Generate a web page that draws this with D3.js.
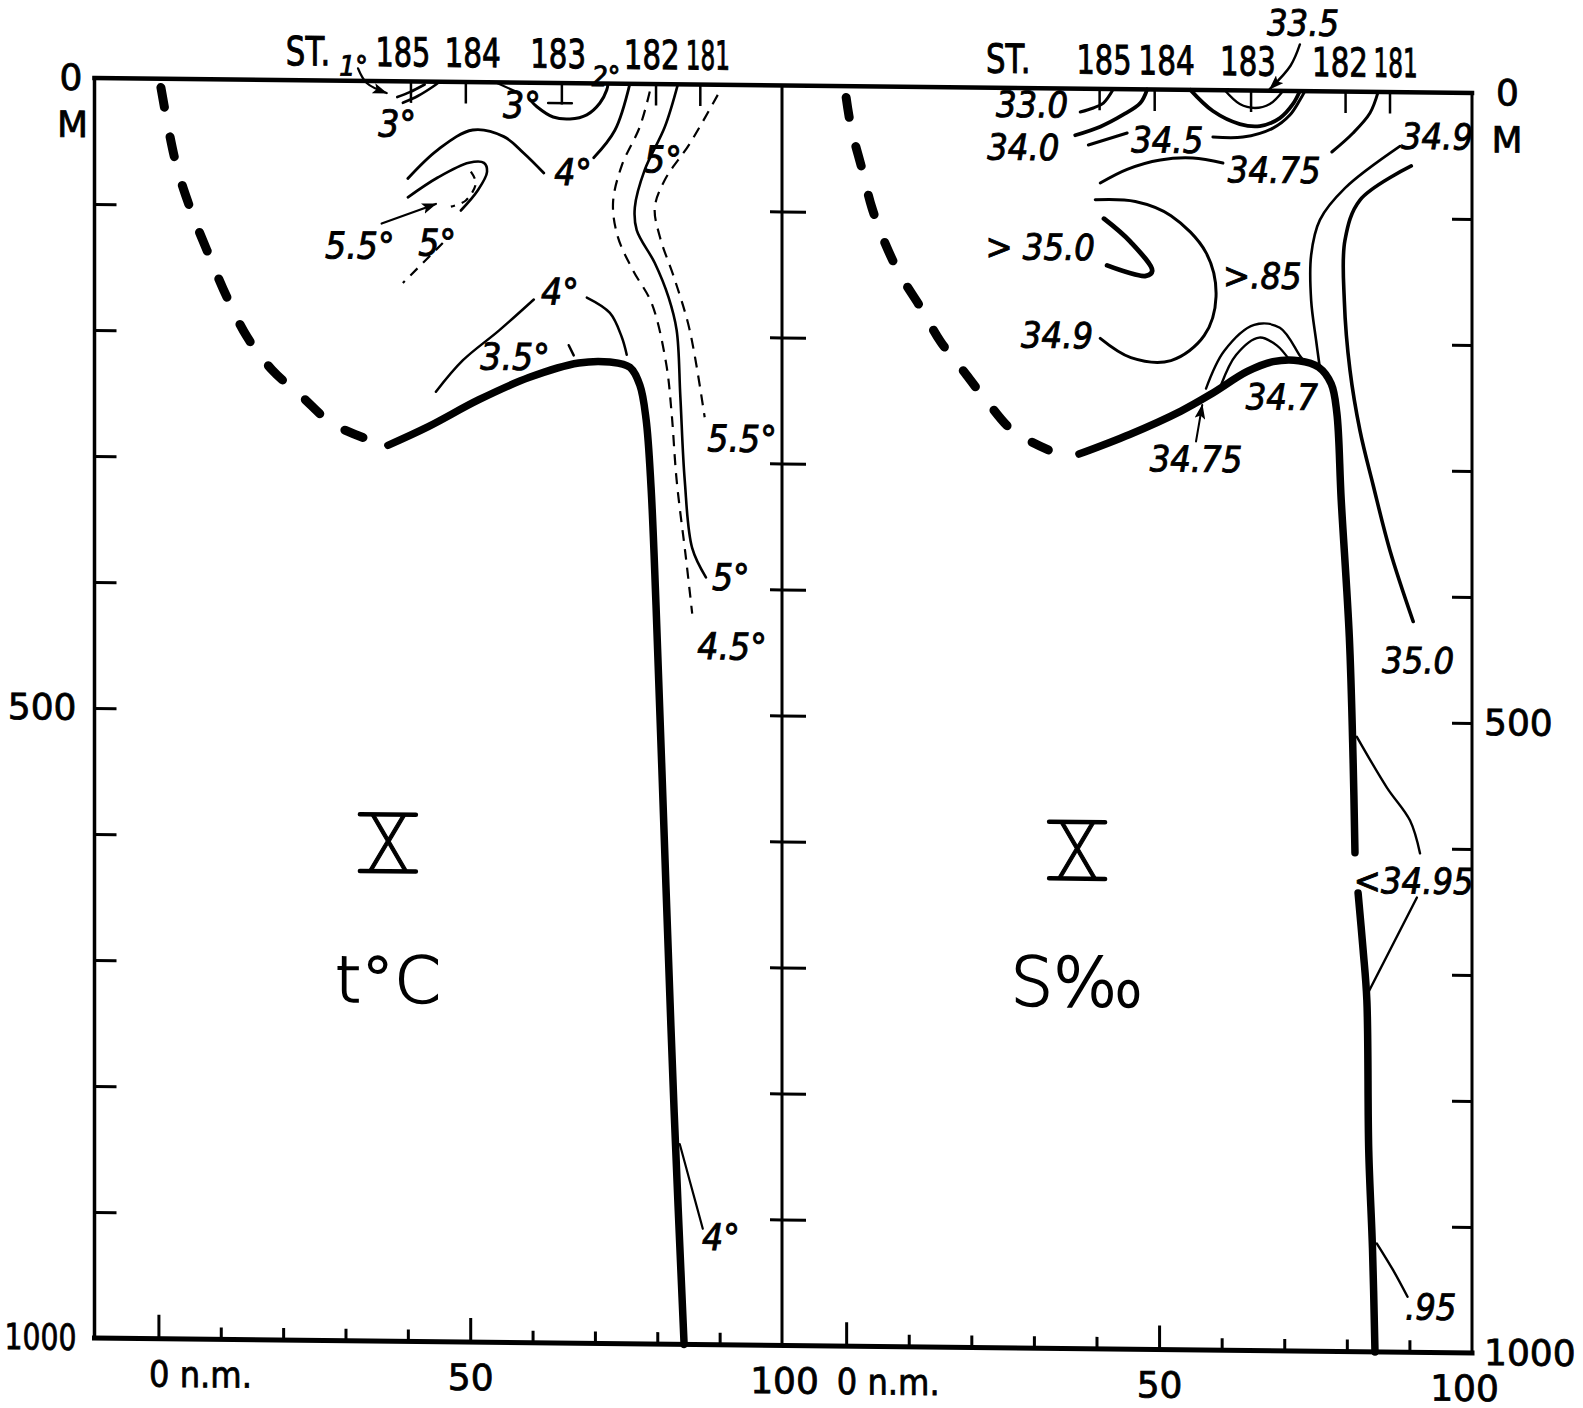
<!DOCTYPE html>
<html><head><meta charset="utf-8">
<script src="https://cdn.jsdelivr.net/npm/d3@7"></script>
<style>
html,body{margin:0;padding:0;background:#fff;}
svg{display:block;}
</style></head>
<body>
<svg id="chart" width="1583" height="1408"></svg>
<script>
// ================= DATA =================
// distance (n.m.) and depth (m) ticks
const distTicks = [0,10,20,30,40,50,60,70,80,90,100];
const distMajor = [0,50];
const distLabelText = {0:"0 n.m.", 50:"50", 100:"100"};
const depthTicks = [0,100,200,300,400,500,600,700,800,900,1000];
const depthLabelText = {0:"0", 500:"500", 1000:"1000"};
const depthUnit = "M";

// stations along the top
const stations = ["185","184","183","182","181"];
const stationTickNm = [40.5,49.3,64.7,79.8,86.9];
const stationLabelNmT = [39.2,50.4,64.1,79.1,88.1];
const stationLabelNmS = [41.2,51.2,64.2,78.9,87.8];
const stationWord = "ST.";
const stationWordNmT = 24.0, stationWordNmS = 25.9;

// ---- temperature section (t°C) : [distance n.m., depth m]
const tBoundaryDashed = [[0.4,7],[2.8,67],[5.2,104],[7.8,136],[11,173],[14.2,204],[18.2,230],[23,251],[27.8,272],[32.8,283]];
const tBoundarySolid = [[36.8,289],[43.2,274],[51.4,252],[59.4,234],[67.4,222],[72.4,221],[75.6,225],[77.2,239],[78.2,266],[79.0,320],[79.8,414],[81.4,638],[82.7,815],[84.3,1000]];
const t4Upper = [[40,77],[44.8,54],[50.4,38],[55.4,43],[58.6,56],[61.8,71.5]];
const t4UpperRight = [[69.8,59],[73.2,37],[75.6,0]];
const t5Loop = [[40,92],[44.8,76],[49.8,64],[52.2,64],[52.7,71],[51.2,86],[48.5,102]];
const t55Inner = [[50.1,71],[50.9,80],[49.3,94],[46.9,99]];
const t5Tail = [[45.6,128],[39.2,160]];
const t55Arrow = [[35.8,113],[44.5,97]];
const t4Lower = [[44.5,246],[48.8,221],[54.6,197],[60.2,172]];
const t4LowerRight = [[68.7,170],[72.4,182],[74.3,201],[75.1,215]];
const t35Tick = [[65.8,208],[66.6,216]];
const t45Dashed = [[78.8,6],[77.2,34],[74.3,65],[72.9,95],[73.7,122],[76.1,148],[79.1,174],[81.4,221],[82.3,261],[83.1,314],[84.6,376],[85.6,420]];
const t5Solid = [[83.3,0],[81.2,34],[78,68],[76.4,98],[76.7,116],[79.6,142],[81.8,169],[83.1,195],[83.7,248],[84.4,314],[85.6,368],[87.8,391]];
const t55Dashed = [[89.7,8],[85.2,47],[81.2,76],[79.6,98],[80.4,121],[82.8,155],[85.2,195],[87.6,264]];
const t4Bottom = [[83.6,841],[85.2,870],[87.3,908]];
const t3Near185 = [[39.2,17],[41.6,11.5],[44,4],[45.1,0]];
const t3Near185b = [[38.3,12.5],[40.3,8.5],[42.7,2.3]];
const t1Arrow = [[32,-10],[33.4,1.6],[36.6,9.4]];
const t2Loop183 = [[59.5,13],[60.7,19],[63.3,27],[66,28.4],[68.7,25],[70.8,15.5],[71.9,5],[72.1,0]];
const t3Stroke183 = [[54.3,0.4],[57.5,7.5]];
const t183Bar = [[62.5,16],[66.3,16]];
const tLabels = [
  {t:"3°", x:38.3, y:44}, {t:"3°", x:58.3, y:28}, {t:"4°", x:66.5, y:81},
  {t:"5°", x:80.9, y:70}, {t:"5.5°", x:32.3, y:141}, {t:"5°", x:44.7, y:138},
  {t:"4°", x:64.4, y:176}, {t:"3.5°", x:57.2, y:228}, {t:"5.5°", x:93.6, y:291},
  {t:"5°", x:91.8, y:401}, {t:"4.5°", x:92.0, y:456}, {t:"4°", x:90.2, y:925}
];
const tHeaderLabels = [{t:"1°", x:31.3, y:-4}, {t:"2°", x:71.8, y:2}];

// ---- salinity section (S‰)
const sBoundaryDashed = [[0,9],[0.8,33],[2.5,65],[4.1,96],[6.1,123],[8.6,149],[11.9,175],[15.1,202],[19.2,228],[22.5,249],[26.6,272],[32.3,287]];
const sBoundarySolidUpper = [[37.2,290],[45.3,274],[53.5,255],[58.4,241],[64.1,223],[68.2,215],[72.3,214],[75.5,219],[77.5,232],[78.4,255],[79.1,324],[80.4,433],[81,530],[81.3,604]];
const sBoundarySolidLower = [[81.8,636],[82.6,681],[83.2,721],[83.5,840],[84.1,918],[84.5,1000]];
const s33_0 = [[37.4,18.5],[39.5,15.2],[41.1,11.2],[42.7,0]];
const s34_0 = [[36.6,37],[40.6,30],[44.2,20.5],[47,10.9],[48.1,0]];
const s34_5Left = [[38.7,44.6],[44.9,34.8]];
const s34_5Right = [[58.6,37.2],[63.4,37],[68.2,29.6],[70.9,19.1],[72.5,7.1],[73.3,0]];
const s33_5Outer = [[55,0],[58.6,16.6],[62.9,26.7],[66.1,28.1],[69.3,21.6],[71.4,10.3],[72.5,0]];
const s33_5Inner = [[60.5,0],[62.9,10.8],[65.3,13.8],[67.7,10.5],[69.8,0]];
const s33_5Arrow = [[72.5,-37],[71,-20],[67.7,-1.4]];
const s34_75Left = [[40.6,74.7],[44.9,63.6],[50.2,55.9],[55.4,54.1],[60.2,57.8]];
const s34_75Right = [[77.6,48.1],[81,32.8],[83.7,16.8],[85,0]];
const s34_9Upper = [[88.5,42.8],[79.7,76.6],[75.7,102],[74.3,130],[74.3,166],[75.1,198],[75.7,220]];
const s35_0Right = [[90.3,58.5],[82.1,86],[79.7,118],[79.6,166],[80.5,221],[82.1,269],[84.2,312],[86.9,364],[90.6,420]];
const s35_0V = [[41.2,103],[45.4,121],[48.9,144],[47.9,148],[41.7,140]];
const s34_85Loop = [[39.8,88],[46.2,89],[51.9,100],[57.5,129],[59.1,164],[57.2,195],[51.9,215],[45.5,213],[40.6,198]];
const s34_7Outer = [[57.5,237],[60.4,207],[65.2,186],[69.3,188],[72.5,210],[73.3,215]];
const s34_7Inner = [[59.9,234],[62.3,210],[66,196],[68.8,202],[70.9,214]];
const s34_75Arrow = [[55.9,279],[56.9,250]];
const s34_95Upper = [[81.6,512],[86.4,552],[90.1,578],[91.7,604]];
const s34_95Lower = [[91.2,639],[83.4,715]];
const s95Bottom = [[84.8,914],[87.4,935],[89.7,956]];
const sLabels = [
  {t:"33.5", x:73.0, y:-44}, {t:"33.0", x:29.7, y:23}, {t:"34.0", x:28.3, y:57},
  {t:"34.5", x:51.3, y:50}, {t:"34.75", x:68.4, y:73}, {t:"34.9", x:94.4, y:45},
  {t:"> 35.0", x:31.0, y:136}, {t:">.85", x:66.5, y:157}, {t:"34.9", x:33.7, y:206},
  {t:"34.7", x:69.6, y:253}, {t:"34.75", x:55.9, y:303}, {t:"35.0", x:91.4, y:461},
  {t:"<34.95", x:90.7, y:636}, {t:".95", x:93.4, y:974}
];

// section titles
const sectionNumeral = "X";
const tTitle = "t°C", sTitle = "S‰";
const titleNmT = 36.8, titleNmS = 36.9;
const numeralDepthTop = 582, numeralDepthBottom = 627;
const titleDepthT = 731, titleDepthS = 728;

// ================= DRAWING =================
const W = 1583, H = 1408;
const FONT = "'DejaVu Sans Condensed','DejaVu Sans',sans-serif";
const svg = d3.select("#chart");
svg.append("rect").attr("width", W).attr("height", H).attr("fill", "#fff");

const defs = svg.append("defs");
defs.append("marker").attr("id","arr").attr("viewBox","0 0 14 10")
  .attr("refX",13).attr("refY",5).attr("markerWidth",15).attr("markerHeight",11)
  .attr("markerUnits","userSpaceOnUse").attr("orient","auto")
  .append("path").attr("d","M0,0 L14,5 L0,10 L3,5 Z").attr("fill","#000");

// the scanned sheet is slightly sheared
const g = svg.append("g").attr("transform","skewY(0.62)");

const depth = d3.scaleLinear().domain([0,1000]).range([77,1337]);
const xT = d3.scaleLinear().domain([-10.25,100]).range([94.5,782]);
const xS = d3.scaleLinear().domain([-10.25,100]).range([782,1472]);

// frame
const frame = g.append("g").attr("stroke","#000").attr("fill","none").attr("stroke-linecap","square");
frame.append("line").attr("x1",xT.range()[0]).attr("x2",xS.range()[1]).attr("y1",depth(0)).attr("y2",depth(0)).attr("stroke-width",4.5);
frame.append("line").attr("x1",xT.range()[0]).attr("x2",xS.range()[1]).attr("y1",depth(1000)).attr("y2",depth(1000)).attr("stroke-width",5);
frame.append("line").attr("x1",xT.range()[0]).attr("x2",xT.range()[0]).attr("y1",depth(0)).attr("y2",depth(1000)).attr("stroke-width",3.5);
frame.append("line").attr("x1",xS.range()[0]).attr("x2",xS.range()[0]).attr("y1",depth(0)).attr("y2",depth(1000)).attr("stroke-width",3);
frame.append("line").attr("x1",xS.range()[1]).attr("x2",xS.range()[1]).attr("y1",depth(0)).attr("y2",depth(1000)).attr("stroke-width",3);

function styleAxis(sel){
  sel.select(".domain").remove();
  sel.selectAll(".tick line").attr("stroke","#000").attr("stroke-width",3);
  sel.selectAll(".tick text").attr("fill","#000").attr("stroke","#000").attr("stroke-width",0.8)
    .style("font-family","'DejaVu Sans',sans-serif").style("font-size","36px");
}

// left depth axis (inward ticks)
const axL = g.append("g").attr("transform",`translate(${xT.range()[0]},0)`)
  .call(d3.axisLeft(depth).tickValues(depthTicks).tickSizeInner(-22).tickSizeOuter(0).tickPadding(18)
    .tickFormat(d => depthLabelText[d] || ""));
styleAxis(axL);
axL.selectAll(".tick").filter(d => d===0 || d===1000).select("line").remove();
axL.selectAll(".tick text").filter(d => d===0).attr("dx", 6);
axL.selectAll(".tick text").filter(d => d===1000)
  .attr("textLength", 72).attr("lengthAdjust","spacingAndGlyphs");

// middle line ticks (cross the line)
const axM1 = g.append("g").attr("transform",`translate(${xS.range()[0]},0)`)
  .call(d3.axisLeft(depth).tickValues(depthTicks.slice(1,-1)).tickSizeInner(-24).tickSizeOuter(0).tickFormat(""));
styleAxis(axM1);
const axM2 = g.append("g").attr("transform",`translate(${xS.range()[0]},0)`)
  .call(d3.axisLeft(depth).tickValues(depthTicks.slice(1,-1)).tickSizeInner(12).tickSizeOuter(0).tickFormat(""));
styleAxis(axM2);

// right depth axis
const axR = g.append("g").attr("transform",`translate(${xS.range()[1]},0)`)
  .call(d3.axisRight(depth).tickValues(depthTicks).tickSizeInner(-20).tickSizeOuter(0).tickPadding(12)
    .tickFormat(d => depthLabelText[d] || ""));
styleAxis(axR);
axR.selectAll(".tick").filter(d => d===0 || d===1000).select("line").remove();
axR.selectAll(".tick text").filter(d => d===0).attr("dx", 12);

// unit "M"
[xT.range()[0]-22, xS.range()[1]+35].forEach(x=>{
  g.append("text").attr("x",x).attr("y",depth(47)).attr("text-anchor","middle")
   .attr("stroke","#000").attr("stroke-width",0.8)
   .style("font-family","'DejaVu Sans',sans-serif").style("font-size","36px").text(depthUnit);
});

// bottom distance axes
function bottomAxis(xs, lastDx){
  const ax = g.append("g").attr("transform",`translate(0,${depth(1000)})`)
    .call(d3.axisBottom(xs).tickValues(distTicks).tickSizeInner(-12).tickSizeOuter(0)
      .tickFormat(d => distLabelText[d] || ""));
  styleAxis(ax);
  ax.selectAll(".tick").filter(d => distMajor.includes(d)).select("line").attr("y2",-24);
  ax.selectAll(".tick").filter(d => d===100).select("line").remove();
  ax.selectAll(".tick text").attr("y",48).attr("dy",0);
  ax.selectAll(".tick text").filter(d => d===0).attr("text-anchor","start").attr("dx",-10)
    .attr("textLength",103).attr("lengthAdjust","spacingAndGlyphs");
  ax.selectAll(".tick text").filter(d => d===100).attr("dx", lastDx);
}
bottomAxis(xT, 2);
bottomAxis(xS, -8);

// station header (letters condensed horizontally)
const stationScale = [0.72,0.74,0.73,0.73,0.58];
function header(xs, labelNm, wordNm){
  const h = g.append("g").style("font-family","'DejaVu Sans',sans-serif").style("font-size","40px")
    .attr("fill","#000").attr("stroke","#000").attr("stroke-width",1);
  const yy = depth(-12);
  h.append("text").attr("transform",`translate(${xs(wordNm)},${yy}) scale(0.77,1)`)
   .attr("text-anchor","middle").text(stationWord);
  stations.forEach((s,i)=>{
    h.append("text").attr("transform",`translate(${xs(labelNm[i])},${yy}) scale(${stationScale[i]},1)`)
     .attr("text-anchor","middle").text(s);
  });
  g.append("g").selectAll("line").data(stationTickNm).join("line")
    .attr("x1",d=>xs(d)).attr("x2",d=>xs(d)).attr("y1",depth(0)).attr("y2",depth(17))
    .attr("stroke","#000").attr("stroke-width",2.5);
}
header(xT, stationLabelNmT, stationWordNmT);
header(xS, stationLabelNmS, stationWordNmS);

function drawLines(xs, specs){
  const gen = d3.line().x(d=>xs(d[0])).y(d=>depth(d[1])).curve(d3.curveCatmullRom.alpha(0.5));
  const grp = g.append("g").attr("fill","none").attr("stroke","#000");
  specs.forEach(s=>{
    const p = grp.append("path").attr("d", gen(s.d)).attr("stroke-width", s.w)
      .attr("stroke-linecap", s.cap || "round").attr("stroke-linejoin","round");
    if (s.dash) p.attr("stroke-dasharray", s.dash).attr("stroke-linecap", s.cap || "butt");
    if (s.arrow) p.attr("marker-end","url(#arr)");
  });
}
function drawLabels(xs, labels, size){
  g.append("g").selectAll("text").data(labels).join("text")
    .attr("x",d=>xs(d.x)).attr("y",d=>depth(d.y)).attr("text-anchor","middle")
    .style("font-family",FONT).style("font-style","italic").style("font-size",size+"px")
    .attr("fill","#000").attr("stroke","#000").attr("stroke-width",0.9).text(d=>d.t);
}

drawLines(xT, [
  {d:tBoundaryDashed, w:9, dash:"20 30", cap:"round"},
  {d:tBoundarySolid, w:7.5},
  {d:t4Upper, w:2.8}, {d:t4UpperRight, w:2.8},
  {d:t5Loop, w:2.6}, {d:t55Inner, w:2.2, dash:"8 7"}, {d:t5Tail, w:2.2, dash:"10 8"},
  {d:t55Arrow, w:2.2, arrow:true},
  {d:t4Lower, w:2.5}, {d:t4LowerRight, w:2.5}, {d:t35Tick, w:2.5},
  {d:t45Dashed, w:2.2, dash:"11 8"}, {d:t5Solid, w:2.6}, {d:t55Dashed, w:2.2, dash:"11 8"},
  {d:t4Bottom, w:2.2},
  {d:t3Near185, w:2.6}, {d:t3Near185b, w:2.6}, {d:t1Arrow, w:2.2, arrow:true},
  {d:t2Loop183, w:3}, {d:t3Stroke183, w:2.2}, {d:t183Bar, w:2.5}
]);
drawLabels(xT, tLabels, 37);
drawLabels(xT, tHeaderLabels, 28);

drawLines(xS, [
  {d:sBoundaryDashed, w:9, dash:"20 30", cap:"round"},
  {d:sBoundarySolidUpper, w:7.5}, {d:sBoundarySolidLower, w:7.5},
  {d:s33_0, w:3}, {d:s34_0, w:3.8}, {d:s34_5Left, w:3}, {d:s34_5Right, w:3},
  {d:s33_5Outer, w:3.8}, {d:s33_5Inner, w:2.4}, {d:s33_5Arrow, w:2.4, arrow:true},
  {d:s34_75Left, w:3}, {d:s34_75Right, w:3},
  {d:s34_9Upper, w:2.6}, {d:s35_0Right, w:3.6}, {d:s35_0V, w:4.8},
  {d:s34_85Loop, w:3}, {d:s34_7Outer, w:2.4}, {d:s34_7Inner, w:2.4},
  {d:s34_75Arrow, w:2, arrow:true},
  {d:s34_95Upper, w:2.4}, {d:s34_95Lower, w:2.4}, {d:s95Bottom, w:2.4}
]);
drawLabels(xS, sLabels, 36);

// section numeral and titles
function title(xs, nm, txt, tDepth, len, size){
  const cx = xs(nm);
  g.append("text").attr("x",cx).attr("y",depth(numeralDepthBottom)-1).attr("text-anchor","middle")
   .attr("stroke","#000").attr("stroke-width",1.2)
   .style("font-family","'DejaVu Sans',sans-serif").style("font-weight","300").style("font-size","76px")
   .attr("textLength",46).attr("lengthAdjust","spacingAndGlyphs").text(sectionNumeral);
  [numeralDepthTop, numeralDepthBottom].forEach(dd=>{
    g.append("line").attr("x1",cx-28).attr("x2",cx+28).attr("y1",depth(dd)).attr("y2",depth(dd))
     .attr("stroke","#000").attr("stroke-width",4.5).attr("stroke-linecap","round");
  });
  g.append("text").attr("x",cx).attr("y",depth(tDepth)).attr("text-anchor","middle")
   .style("font-family","'DejaVu Sans',sans-serif").style("font-weight","300").style("font-size",size+"px")
   .attr("stroke","#000").attr("stroke-width",1.6)
   .attr("textLength",len).attr("lengthAdjust","spacingAndGlyphs").text(txt);
}
title(xT, titleNmT, tTitle, titleDepthT, 106, 64);
title(xS, titleNmS, sTitle, titleDepthS, 133, 68);
</script>
</body></html>
